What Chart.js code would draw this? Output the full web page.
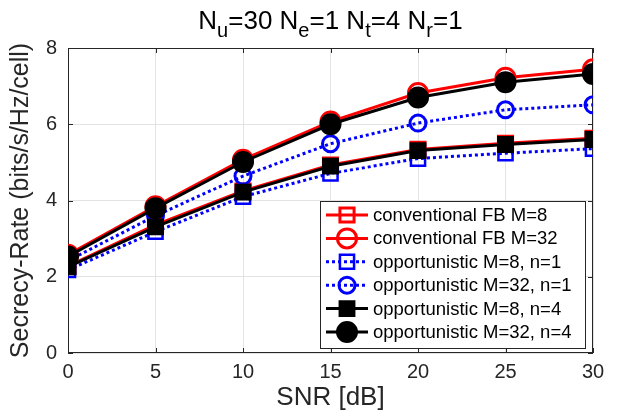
<!DOCTYPE html>
<html>
<head>
<meta charset="utf-8">
<script src="https://cdn.jsdelivr.net/npm/chart.js@4.4.1/dist/chart.umd.min.js"></script>
<style>
  body { margin: 0; background: #fff; }
  #wrap { position: relative; width: 618px; height: 416px; }
  #title {
    position: absolute; left: 68px; width: 525px; top: 5px;
    text-align: center; font: 26px "Liberation Sans", Arial, sans-serif; color: #000;
    line-height: 30px; white-space: nowrap;
  }
  #title sub { font-size: 20px; vertical-align: -0.42em; line-height: 0; }
</style>
</head>
<body>
<div id="wrap">
  <canvas id="chart" width="618" height="416"></canvas>
  <div id="title">N<sub>u</sub>=30 N<sub>e</sub>=1 N<sub>t</sub>=4 N<sub>r</sub>=1</div>
</div>
<script>
const snr = [0, 5, 10, 15, 20, 25, 30];
const convM8 = [2.28, 3.36, 4.25, 4.93, 5.34, 5.5, 5.63];
const convM32 = [2.58, 3.85, 5.07, 6.07, 6.82, 7.22, 7.44];
const oppM8n1 = [2.18, 3.18, 4.1, 4.71, 5.1, 5.24, 5.36];
const oppM32n1 = [2.42, 3.6, 4.64, 5.49, 6.03, 6.38, 6.51];
const oppM8n4 = [2.26, 3.31, 4.22, 4.9, 5.31, 5.47, 5.6];
const oppM32n4 = [2.53, 3.8, 5.01, 6.0, 6.7, 7.1, 7.32];
const yTicks = [0, 2, 4, 6, 8];
const xTicks = [0, 5, 10, 15, 20, 25, 30];

const FONT = '"Liberation Sans", Arial, sans-serif';
const AXIS = '#262626';

const pts = vals => vals.map((v, i) => ({ x: snr[i], y: v }));

function series(label, vals, color, style, filled, radius, bw, dotted, order) {
  return {
    label, data: pts(vals), order,
    borderColor: color, borderWidth: 3,
    borderDash: dotted ? [3, 3] : [],
    pointStyle: style, pointRadius: radius, pointHoverRadius: radius,
    pointBorderColor: color, pointBorderWidth: bw,
    pointBackgroundColor: filled ? color : 'rgba(0,0,0,0)',
    tension: 0, fill: false
  };
}

const datasets = [
  series('conventional FB M=8', convM8, '#ff0000', 'rect', false, 10, 3, false, 6),
  series('conventional FB M=32', convM32, '#ff0000', 'circle', false, 9.5, 3, false, 5),
  series('opportunistic M=8, n=1', oppM8n1, '#0000ff', 'rect', false, 10, 2.5, true, 4),
  series('opportunistic M=32, n=1', oppM32n1, '#0000ff', 'circle', false, 8, 3, true, 3),
  series('opportunistic M=8, n=4', oppM8n4, '#000000', 'rect', true, 10.5, 2, false, 2),
  series('opportunistic M=32, n=4', oppM32n4, '#000000', 'circle', true, 10, 2, false, 1)
];

function marker(ctx, ds, x, y) {
  ctx.save();
  ctx.setLineDash([]);
  ctx.lineWidth = ds.pointBorderWidth;
  ctx.strokeStyle = ds.pointBorderColor;
  ctx.fillStyle = ds.pointBackgroundColor;
  ctx.beginPath();
  const r = ds.pointRadius;
  if (ds.pointStyle === 'rect') {
    const s = r * Math.SQRT1_2;
    ctx.rect(x - s, y - s, 2 * s, 2 * s);
  } else {
    ctx.arc(x, y, r, 0, Math.PI * 2);
  }
  ctx.fill();
  ctx.stroke();
  ctx.restore();
}

const boxPlugin = {
  id: 'box',
  beforeDatasetsDraw(chart) {
    const { ctx, chartArea: a, scales } = chart;
    ctx.save();
    ctx.strokeStyle = AXIS;
    ctx.lineWidth = 1;
    ctx.strokeRect(a.left + 0.5, a.top + 0.5, a.right - a.left - 1, a.bottom - a.top - 1);
    ctx.beginPath();
    for (const t of xTicks) {
      const x = Math.round(scales.x.getPixelForValue(t)) + 0.5;
      ctx.moveTo(x, a.bottom); ctx.lineTo(x, a.bottom - 5);
      ctx.moveTo(x, a.top); ctx.lineTo(x, a.top + 5);
    }
    for (const t of yTicks) {
      const y = Math.round(scales.y.getPixelForValue(t)) + 0.5;
      ctx.moveTo(a.left, y); ctx.lineTo(a.left + 5, y);
      ctx.moveTo(a.right, y); ctx.lineTo(a.right - 5, y);
    }
    ctx.stroke();
    ctx.restore();
  }
};

const legendPlugin = {
  id: 'boxLegend',
  afterDraw(chart) {
    const ctx = chart.ctx;
    const left = 320, top = 201, w = 265, h = 147, row = 23.4;
    ctx.save();
    ctx.fillStyle = '#fff';
    ctx.fillRect(left, top, w, h);
    ctx.strokeStyle = AXIS;
    ctx.lineWidth = 1;
    ctx.strokeRect(left + 0.5, top + 0.5, w, h);
    ctx.font = '18.5px ' + FONT;
    ctx.textBaseline = 'middle';
    chart.data.datasets.forEach((ds, i) => {
      const y = top + 14 + i * row;
      ctx.save();
      ctx.strokeStyle = ds.borderColor;
      ctx.lineWidth = ds.borderWidth;
      ctx.setLineDash(ds.borderDash);
      ctx.beginPath();
      ctx.moveTo(326, y); ctx.lineTo(368, y);
      ctx.stroke();
      ctx.restore();
      marker(ctx, ds, 347, y);
      ctx.fillStyle = '#000';
      ctx.fillText(ds.label, 373, y + 1);
    });
    ctx.restore();
  }
};

new Chart(document.getElementById('chart'), {
  type: 'line',
  data: { datasets },
  plugins: [boxPlugin, legendPlugin],
  options: {
    responsive: false,
    animation: false,
    layout: { padding: { top: 48, right: 25, left: 0, bottom: 0 } },
    plugins: { legend: { display: false }, tooltip: { enabled: false } },
    scales: {
      x: {
        type: 'linear', min: 0, max: 30,
        afterFit: s => { s.height = 63; },
        afterBuildTicks: s => { s.ticks = xTicks.map(v => ({ value: v })); },
        grid: { color: '#e3e3e3', drawTicks: false },
        border: { display: false },
        ticks: { color: AXIS, font: { family: FONT, size: 20 }, padding: 7, maxRotation: 0 },
        title: { display: true, text: 'SNR [dB]', color: AXIS, font: { family: FONT, size: 26 }, padding: { bottom: 3 } }
      },
      y: {
        min: 0, max: 8,
        afterFit: s => { s.width = 68; },
        afterBuildTicks: s => { s.ticks = yTicks.map(v => ({ value: v })); },
        grid: { color: '#e3e3e3', drawTicks: false },
        border: { display: false },
        ticks: { color: AXIS, font: { family: FONT, size: 20 }, padding: 11 },
        title: { display: true, text: 'Secrecy-Rate (bits/s/Hz/cell)', color: AXIS, font: { family: FONT, size: 25 }, padding: { top: 6 } }
      }
    }
  }
});
</script>
</body>
</html>
